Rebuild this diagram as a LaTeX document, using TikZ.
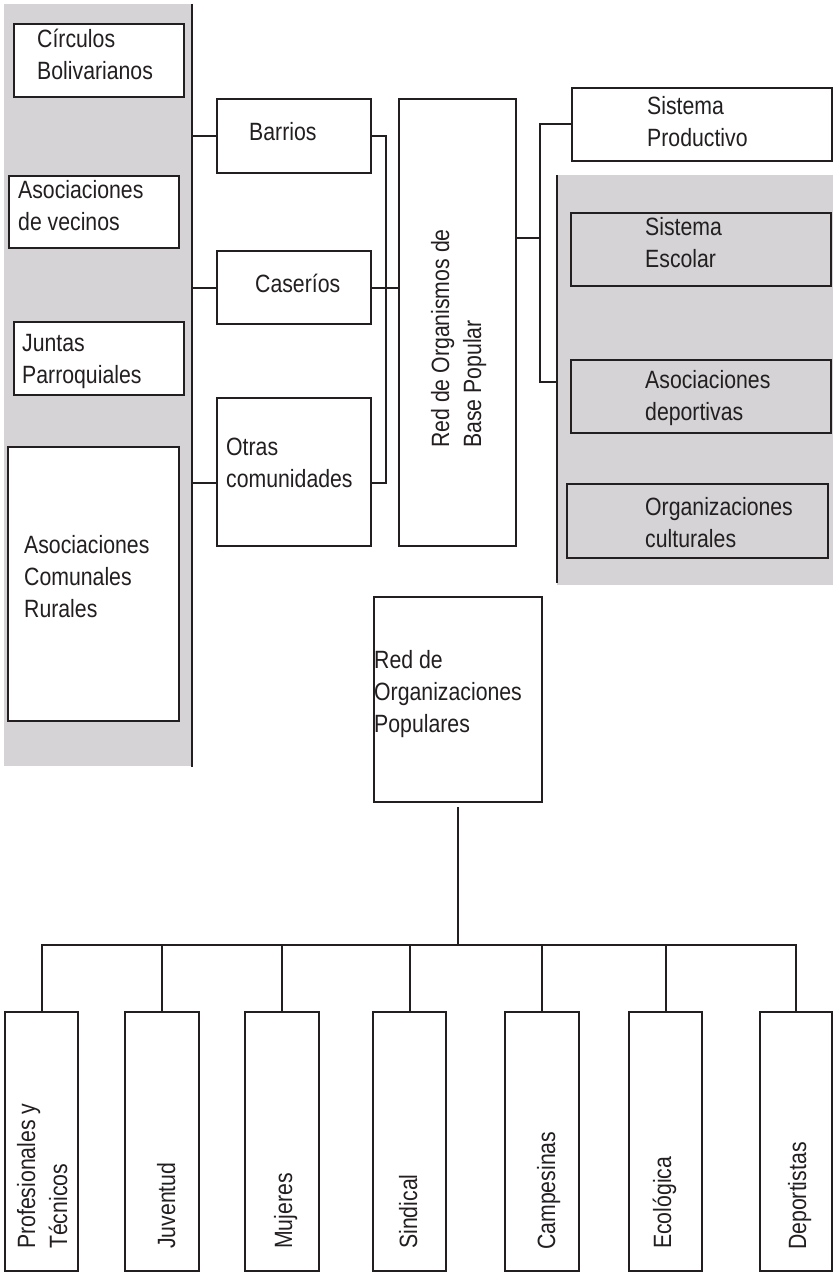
\documentclass[tikz,border=0pt]{standalone}
\usepackage{fontspec}
\setmainfont{Liberation Sans}[FakeStretch=0.85]
\usetikzlibrary{calc}
\definecolor{panelgray}{RGB}{213,211,213}
\definecolor{ink}{RGB}{35,31,32}
\tikzset{
  box/.style={draw=ink, line width=2.4pt, rectangle, inner sep=0pt, fill=white},
  graybox/.style={box, fill=panelgray},
  txt/.style={inner sep=0pt, align=left, text=ink, font=\fontsize{25}{32}\selectfont},
  rtxt/.style={txt, rotate=90, anchor=base west},
  conn/.style={draw=ink, line width=2pt},
  panel/.style={fill=panelgray, draw=none}
}
\newcommand\mybox[6][box]{%
  \node[#1, minimum width={(#5-#3)*1pt}, minimum height={(#6-#4)*1pt}] (#2) at ({(#3+#5)/2},{(#4+#6)/2}) {};}
\begin{document}
\begin{tikzpicture}[x=1pt,y=-1pt]
\useasboundingbox (0,0) rectangle (833,1273);
% panels
\path[panel] (4,4) rectangle (192,766);
\path[panel] (557,175) rectangle (833,585);
% panel backbones
\coordinate (lt) at (192,4);
\coordinate (lb) at (192,767);
\coordinate (rt) at (557,175);
\coordinate (rb) at (557,583);
\draw[conn] (lt) -- (lb);
\draw[conn] (rt) -- (rb);
% left boxes
\mybox{circ}{14}{24}{184}{97}
\mybox{vec}{9}{176}{179}{248}
\mybox{jun}{14}{322}{184}{395}
\mybox{acr}{8}{447}{179}{721}
% middle boxes
\mybox{bar}{217}{99}{371}{173}
\mybox{cas}{217}{251}{371}{324}
\mybox{otr}{217}{398}{371}{546}
\mybox{red}{399}{99}{516}{546}
% right boxes
\mybox{sp}{572}{88}{832}{161}
\mybox[graybox]{se}{571}{213}{831}{286}
\mybox[graybox]{ad}{571}{360}{831}{433}
\mybox[graybox]{oc}{567}{484}{828}{558}
% red org pop
\mybox{rop}{374}{597}{542}{802}
% bottom boxes
\mybox{b1}{5}{1012}{78}{1271}
\mybox{b2}{125}{1012}{199}{1271}
\mybox{b3}{245}{1012}{319}{1271}
\mybox{b4}{373}{1012}{446}{1271}
\mybox{b5}{505}{1012}{579}{1271}
\mybox{b6}{629}{1012}{702}{1271}
\mybox{b7}{760}{1012}{832}{1271}
% connectors left panel -> middle
\draw[conn] (lt |- bar.west) -- (bar.west);
\draw[conn] (lt |- cas.west) -- (cas.west);
\coordinate (otrin) at ($(otr.west)+(0,11)$);
\draw[conn] (lt |- otrin) -- (otrin);
% bracket to red
\coordinate (brk) at (386,0);
\coordinate (otrout) at ($(otr.east)+(0,11)$);
\draw[conn] (bar.east) -- (brk |- bar.east) -- (brk |- otrout) -- (otrout);
\draw[conn] (cas.east) -- (cas.east -| red.west);
% red -> right
\coordinate (redout) at ($(red.east)+(0,-84)$);
\coordinate (rbk) at (540,0);
\draw[conn] (redout) -- (rbk |- redout);
\draw[conn] (sp.west) -- (rbk |- sp.west) -- (rbk |- 0,382) -- (rt |- 0,382);
% bottom tree
\coordinate (hb) at (0,945);
\draw[conn] ($(rop.south)+(0,4)$) -- (rop.south |- hb);
\draw[conn] (b1.north) -- (b1.north |- hb) -- (b7.north |- hb) -- (b7.north);
\foreach \b in {b2,b3,b4,b5,b6}{\draw[conn] (\b.north |- hb) -- (\b.north);}
% texts (anchor = baseline of the last line)
\node[txt, anchor=base west] (tcirc) at (37,80) {Círculos\\Bolivarianos};
\node[txt, anchor=base west] (tvec) at (18,230) {Asociaciones\\de vecinos};
\node[txt, anchor=base west] (tjun) at (22,383) {Juntas\\Parroquiales};
\node[txt, anchor=base west] (tacr) at (24,617) {Asociaciones\\Comunales\\Rurales};
\node[txt, anchor=base west] (tbar) at (249,141) {Barrios};
\node[txt, anchor=base west] (tcas) at (255,292) {Caseríos};
\node[txt, anchor=base west] (totr) at (226,487) {Otras\\comunidades};
\node[rtxt] (tred) at (481,448) {Red de Organismos de\\Base Popular};
\node[txt, anchor=base west] (tsp) at (647,147) {Sistema\\Productivo};
\node[txt, anchor=base west] (tse) at (645,267) {Sistema\\Escolar};
\node[txt, anchor=base west] (tad) at (645,420) {Asociaciones\\deportivas};
\node[txt, anchor=base west] (toc) at (645,547) {Organizaciones\\culturales};
\node[txt, anchor=base west] (trop) at (374,732) {Red de\\Organizaciones\\Populares};
\node[rtxt] (tb1) at (67,1249) {Profesionales y\\Técnicos};
\node[rtxt] (tb2) at (175,1249) {Juventud};
\node[rtxt] (tb3) at (292,1249) {Mujeres};
\node[rtxt] (tb4) at (417,1249) {Sindical};
\node[rtxt] (tb5) at (555,1250) {Campesinas};
\node[rtxt] (tb6) at (671,1249) {Ecológica};
\node[rtxt] (tb7) at (806,1250) {Deportistas};
\end{tikzpicture}
\end{document}
